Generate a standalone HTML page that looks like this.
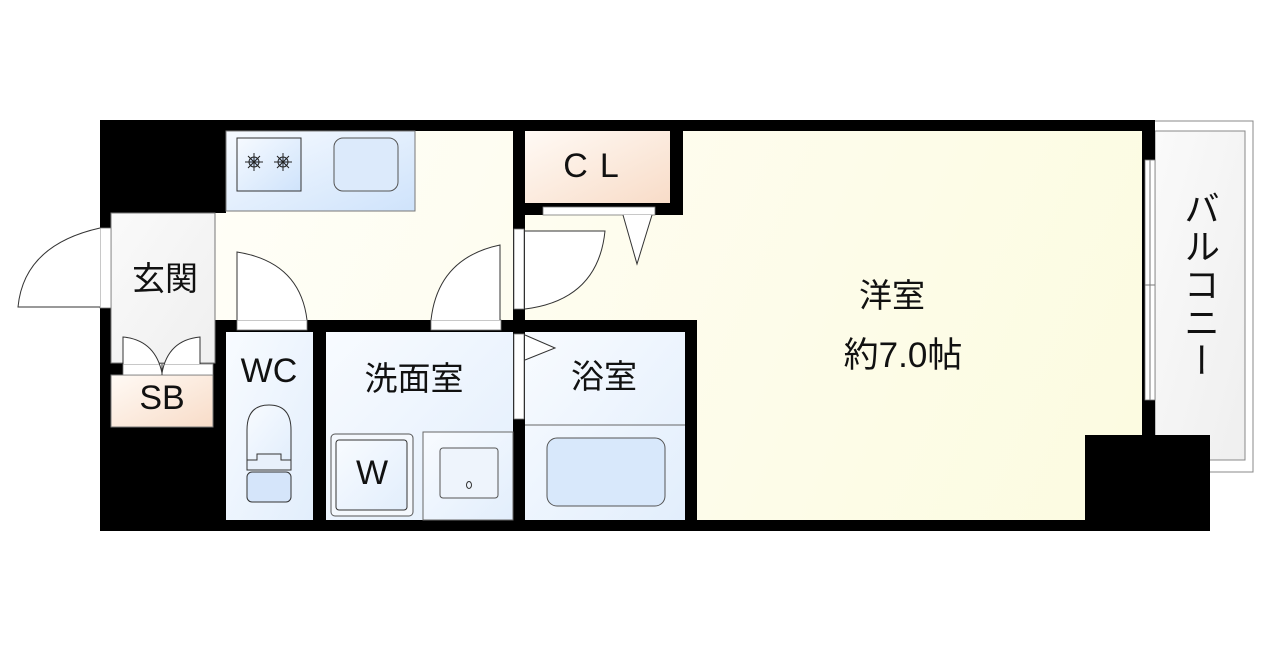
<!DOCTYPE html>
<html><head><meta charset="utf-8"><style>
html,body{margin:0;padding:0;background:#fff;width:1280px;height:652px;overflow:hidden}
text{font-family:"Liberation Sans","Noto Sans CJK JP",sans-serif;fill:#111}
.bal{position:absolute;left:1182px;top:190px;writing-mode:vertical-rl;font-family:"Noto Sans CJK JP",sans-serif;font-size:36px;line-height:40px;color:#111;letter-spacing:2px}
</style></head><body>
<svg width="1280" height="652" viewBox="0 0 1280 652" xmlns="http://www.w3.org/2000/svg" style="position:absolute;left:0;top:0">
<defs>
<linearGradient id="bl" x1="0" y1="0" x2="1" y2="1"><stop offset="0" stop-color="#f6faff"/><stop offset="1" stop-color="#cfe3fb"/></linearGradient>
<linearGradient id="bl2" x1="0" y1="0" x2="1" y2="1"><stop offset="0" stop-color="#f8fbff"/><stop offset="1" stop-color="#e2eefc"/></linearGradient>
<linearGradient id="pe" x1="0" y1="0" x2="1" y2="1"><stop offset="0" stop-color="#fffaf5"/><stop offset="1" stop-color="#f8dcc8"/></linearGradient>
<linearGradient id="cr" gradientUnits="userSpaceOnUse" x1="200" y1="130" x2="1140" y2="520"><stop offset="0" stop-color="#fffef8"/><stop offset="1" stop-color="#fcfbe0"/></linearGradient>
<linearGradient id="gr" x1="0" y1="0" x2="1" y2="1"><stop offset="0" stop-color="#fafafa"/><stop offset="1" stop-color="#efefef"/></linearGradient>
</defs>
<!-- balcony -->
<rect x="1150" y="121" width="103" height="351" fill="#fff" stroke="#888" stroke-width="1"/>
<rect x="1155" y="131" width="90" height="329" fill="url(#gr)" stroke="#888" stroke-width="1"/>
<!-- black base -->
<rect x="100" y="120" width="1055" height="411" fill="#000"/>
<rect x="1085" y="435" width="125" height="96" fill="#000"/>
<!-- rooms -->
<path d="M226 131 H513 V320 H215 V213 H226 Z" fill="url(#cr)"/>
<path d="M525 215 H683 V131 H1142 V435 H1085 V520 H697 V320 H525 Z" fill="url(#cr)"/>
<rect x="111" y="213" width="104" height="150" fill="url(#gr)" stroke="#777" stroke-width="1"/>
<rect x="111" y="375" width="102" height="52" fill="url(#pe)" stroke="#777" stroke-width="1"/>
<rect x="226" y="131" width="189" height="80" fill="url(#bl)" stroke="#777" stroke-width="1"/>
<rect x="237" y="138" width="64" height="53" fill="url(#bl)" stroke="#333" stroke-width="1"/>
<rect x="334" y="138" width="64" height="53" rx="9" fill="#dceafb" stroke="#555" stroke-width="1"/>
<g stroke="#222" stroke-width="1" fill="#cfe0f8">
<circle cx="254" cy="162" r="5"/><circle cx="283" cy="162" r="5"/>
<path d="M254 153v18M245 162h18M248 156l12 12M260 156l-12 12M283 153v18M274 162h18M277 156l12 12M289 156l-12 12" fill="none"/>
</g>
<rect x="525" y="131" width="145" height="72" fill="url(#pe)"/>
<rect x="226" y="332" width="87" height="188" fill="url(#bl2)"/>
<rect x="326" y="332" width="187" height="188" fill="url(#bl2)"/>
<rect x="525" y="332" width="160" height="188" fill="url(#bl2)"/>
<line x1="525" y1="425" x2="685" y2="425" stroke="#666"/>
<rect x="547" y="438" width="118" height="68" rx="10" fill="#d8e8fb" stroke="#555"/>
<rect x="331" y="434" width="82" height="82" rx="4" fill="#f4f8fd" stroke="#555"/>
<rect x="336" y="440" width="71" height="70" rx="3" fill="url(#bl2)" stroke="#333"/>
<rect x="423" y="432" width="90" height="88" fill="url(#bl2)" stroke="#666"/>
<rect x="440" y="448" width="58" height="50" rx="3" fill="#eef4fc" stroke="#555"/>
<ellipse cx="469" cy="485" rx="2.5" ry="3.5" fill="none" stroke="#333"/>
<!-- toilet -->
<path d="M247 460 L247 430 Q247 405 269 405 Q291 405 291 430 L291 460 Z" fill="url(#bl2)" stroke="#333"/>
<path d="M247 460h10v-6h24v6h10v10h-44z" fill="#e8f0fb" stroke="#333"/>
<rect x="247" y="472" width="44" height="30" rx="5" fill="#d5e5fa" stroke="#333"/>
<!-- door openings -->
<rect x="100" y="228" width="11" height="80" fill="#fff" stroke="#777" stroke-width="0.8"/>
<path d="M100 307 H18 Q24 245 100 228" fill="#fff" stroke="#333"/>
<rect x="237" y="320" width="70" height="10" fill="#fff" stroke="#777" stroke-width="0.8"/>
<path d="M237 320 V252 Q300 262 307 320" fill="#fff" stroke="#333"/>
<rect x="431" y="320" width="70" height="10" fill="#fff" stroke="#777" stroke-width="0.8"/>
<path d="M500 320 V245 Q438 258 431 320" fill="#fff" stroke="#333"/>
<rect x="514" y="229" width="10" height="80" fill="#fff" stroke="#777" stroke-width="0.8"/>
<path d="M525 309 Q598 300 605 231 H525" fill="#fff" stroke="#333"/>
<rect x="543" y="207" width="112" height="8" fill="#fff" stroke="#777" stroke-width="0.8"/>
<path d="M623 215 L637 264 L652 215" fill="#fff" stroke="#333"/>
<rect x="514" y="334" width="10" height="85" fill="#fff" stroke="#777" stroke-width="0.8"/>
<path d="M525 335 L555 348 L525 360" fill="#fff" stroke="#333"/>
<rect x="123" y="364" width="90" height="11" fill="#fff" stroke="#777" stroke-width="0.8"/>
<path d="M123 364 V337 Q155 340 162 373 Q168 340 200 337 V364" fill="#fff" stroke="#333"/>
<line x1="162" y1="364" x2="162" y2="375" stroke="#333"/>
<rect x="1145" y="160" width="10" height="240" fill="#fff" stroke="#777" stroke-width="0.8"/>
<line x1="1150" y1="160" x2="1150" y2="400" stroke="#777"/>
<line x1="1145" y1="285" x2="1155" y2="285" stroke="#777"/>
<!-- labels -->
<text x="165" y="290" font-size="33" text-anchor="middle">玄関</text>
<text x="162" y="409" font-size="34" text-anchor="middle">SB</text>
<text x="269" y="382" font-size="34" text-anchor="middle">WC</text>
<text x="414" y="390" font-size="33" text-anchor="middle">洗面室</text>
<text x="372" y="484" font-size="34" text-anchor="middle">W</text>
<text x="604" y="388" font-size="33" text-anchor="middle">浴室</text>
<text x="597" y="177" font-size="34" text-anchor="middle" letter-spacing="12">CL</text>
<text x="892" y="307" font-size="33" text-anchor="middle">洋室</text>
<text x="903" y="367" font-size="35" text-anchor="middle">約7.0帖</text>
</svg>
<div class="bal">バルコニー</div>
</body></html>
